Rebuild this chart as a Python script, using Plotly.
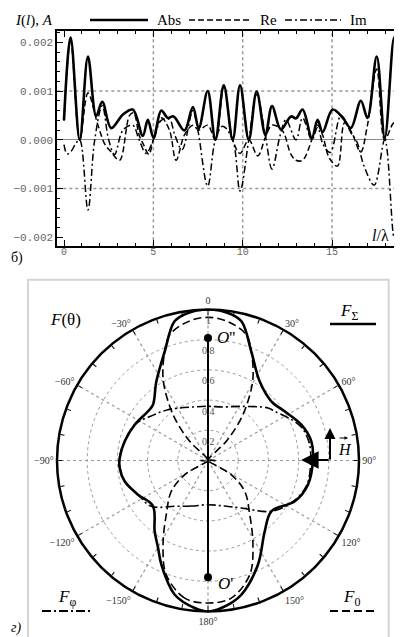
import plotly.graph_objects as go

# === данные: ток вдоль провода (мА) ===
ABS_X = [0, 0.37, 0.88, 1.34, 1.8, 2.14, 2.64, 3.3, 3.85, 4.41, 4.69, 5.01, 5.44, 5.81, 6.13,
         6.74, 7.21, 7.54, 8.04, 8.47, 8.94, 9.44, 9.85, 10.34, 10.78, 11.27, 11.64, 12.14,
         12.7, 12.98, 13.35, 13.87, 14.19, 14.47, 15.03, 15.6, 16.05, 16.61, 16.98, 17.5,
         17.95, 18.47, 18.84]
ABS_MA = [0.40, 2.10, 0.0, 1.71, 0.49, 0.78, 0.24, 0.52, 0.62, 0.08, 0.41, 0.04, 0.60, 0.45,
          0.48, 0.19, 0.67, 0.24, 1.00, 0.0, 1.12, 0.0, 1.12, 0.0, 0.99, 0.10, 0.69, 0.21,
          0.48, 0.44, 0.62, 0.04, 0.41, 0.16, 0.62, 0.45, 0.24, 0.80, 0.45, 1.71, 0.04, 2.10,
          0.38]

RE_X = [0, 0.37, 0.88, 1.34, 1.9, 2.3, 2.64, 3.11, 3.67, 3.9, 4.2, 4.45, 4.75, 5.0, 5.44, 5.9,
        6.27, 6.74, 7.21, 7.54, 8.04, 8.47, 8.94, 9.44, 9.85, 10.34, 10.84, 11.27, 11.64, 12.2,
        12.7, 12.98, 13.35, 13.87, 14.19, 14.47, 14.84, 15.3, 15.7, 16.1, 16.6, 16.98, 17.5,
        17.95, 18.47, 18.84]
RE_MA = [0.39, 2.05, 0.0, 0.96, 0.30, -0.10, -0.25, -0.42, 0.50, 0.55, 0.10, -0.10, -0.30, 0.0,
         0.45, 0.20, -0.42, 0.10, 0.30, 0.20, 0.30, 0.0, 1.08, 0.0, -0.28, 0.0, -0.33, 0.05,
         0.30, 0.20, -0.30, -0.42, -0.42, 0.0, 0.30, 0.10, -0.37, -0.54, 0.35, 0.15, -0.25,
         0.30, 1.45, 0.0, 0.35, 0.30]

IM_X = [0, 0.17, 0.37, 0.69, 0.88, 1.34, 1.71, 2.14, 2.5, 2.83, 3.3, 3.85, 4.2, 4.6, 5.0, 5.44,
        5.9, 6.2, 6.61, 7.21, 7.49, 8.04, 8.47, 8.88, 9.44, 9.85, 10.34, 10.78, 11.27, 11.64,
        12.1, 12.42, 12.98, 13.35, 13.87, 14.19, 14.5, 14.9, 15.5, 16.05, 16.4, 16.8, 17.36,
        17.95, 18.47, 18.84]
IM_MA = [-0.10, -0.29, -0.25, -0.06, 0.0, -1.44, -0.02, 0.70, 0.0, -0.30, 0.20, 0.30, 0.0,
         -0.28, 0.0, 0.40, 0.42, 0.10, -0.20, 0.60, 0.20, -0.95, 0.0, 0.28, 0.0, -1.05, 0.0,
         0.93, 0.08, -0.60, 0.10, 0.41, 0.0, 0.45, 0.0, 0.25, -0.10, -0.26, 0.50, 0.15, -0.05,
         -0.55, -0.93, 0.0, -2.00, -0.35]

X_TICKS = [0, 5, 10, 15]
Y_TICKS = [-0.002, -0.001, 0.0, 0.001, 0.002]
GRID_X = [5, 10, 15]
GRID_Y = [-0.001, 0.001]

# === данные: диаграммы направленности ===
FS_THETA = [-180, -174.8, -166.1, -155.9, -150.3, -143, -129.6, -116, -104, -94.9, -88.4, -77,
            -64, -50.6, -44.6, -33.1, -21.6, -13.5, -7.7, 0, 7.7, 13.5, 21.6, 33.1, 46.9, 57.3,
            69, 79.5, 89.6, 103.6, 115.2, 128.7, 141.3, 154.4, 166.1, 174.8, 180]
FS_R = [1.0, 0.981, 0.916, 0.756, 0.667, 0.587, 0.473, 0.516, 0.569, 0.587, 0.585, 0.566,
        0.540, 0.514, 0.519, 0.626, 0.778, 0.948, 0.986, 1.0, 0.986, 0.948, 0.778, 0.626,
        0.574, 0.603, 0.662, 0.696, 0.695, 0.681, 0.635, 0.538, 0.601, 0.765, 0.916, 0.981, 1.0]

F0_THETA = [-180, -170.4, -159.9, -151.9, -142.4, -130, -121.4, -110, -90, -50, -43.6, -38.9,
            -34, -28.6, -21.6, -16.9, -8, 0, 8, 16.9, 21.6, 28.6, 34, 38.9, 43.6, 50, 90, 110,
            121.4, 130, 142.4, 151.9, 159.9, 170.4, 180]
F0_R = [0.944, 0.924, 0.805, 0.632, 0.453, 0.317, 0.18, 0.0, 0.05, 0.0, 0.176, 0.334, 0.473,
        0.622, 0.778, 0.871, 0.93, 0.948, 0.93, 0.871, 0.778, 0.622, 0.473, 0.334, 0.176, 0.0,
        0.05, 0.0, 0.18, 0.317, 0.453, 0.632, 0.805, 0.924, 0.944]

FPHI_THETA = [-180, -160, -144, -128.9, -116, -104, -90, -77, -64, -50, -38.2, -30, -15, 0, 15,
              31.6, 48.8, 53.6, 69, 79.5, 90, 103.6, 115, 128.7, 145, 160, 180]
FPHI_R = [0.293, 0.321, 0.375, 0.483, 0.516, 0.569, 0.587, 0.566, 0.54, 0.47, 0.428, 0.40,
          0.367, 0.359, 0.367, 0.421, 0.528, 0.549, 0.65, 0.68, 0.68, 0.675, 0.63, 0.538,
          0.384, 0.321, 0.293]

O_THETA = [0, 180]
O_R = [0.811, 0.774]
RADIAL_TICKS = [0.2, 0.4, 0.6, 0.8, 1.0]
RADIAL_LABELS = ['0.2', '0.4', '0.6', '0.8', '1']

# === разметка ===
W, H = 402, 637
CX, CY, R = 200, 452.5, 151
SERIF = 'Liberation Serif'
MONO = 'Liberation Mono'


def px(x):
    return x / W


def py(y):
    return 1 - y / H


fig = go.Figure()

fig.add_trace(go.Scatter(x=RE_X, y=[v * 1e-3 for v in RE_MA], mode='lines',
                         line=dict(color='black', width=1.5, dash='6px,3px', shape='spline')))
fig.add_trace(go.Scatter(x=IM_X, y=[v * 1e-3 for v in IM_MA], mode='lines',
                         line=dict(color='black', width=1.5, dash='7px,3px,2px,3px', shape='spline')))
fig.add_trace(go.Scatter(x=ABS_X, y=[v * 1e-3 for v in ABS_MA], mode='lines',
                         line=dict(color='black', width=2.6, shape='spline')))

# сетка полярной диаграммы (лучи через 30°)
spoke_r, spoke_t = [], []
for a in range(0, 360, 30):
    spoke_r += [0, 1, None]
    spoke_t += [a, a, None]
fig.add_trace(go.Scatterpolar(r=spoke_r, theta=spoke_t, mode='lines', subplot='polar',
                              line=dict(color='#999999', width=1.2, dash='3px,3px'),
                              hoverinfo='skip'))

fig.add_trace(go.Scatterpolar(r=F0_R, theta=F0_THETA, mode='lines', subplot='polar',
                              line=dict(color='black', width=1.6, dash='8px,4px', shape='spline')))
fig.add_trace(go.Scatterpolar(r=FPHI_R, theta=FPHI_THETA, mode='lines', subplot='polar',
                              line=dict(color='black', width=1.6, dash='9px,3px,2px,3px',
                                        shape='spline')))
fig.add_trace(go.Scatterpolar(r=FS_R, theta=FS_THETA, mode='lines', subplot='polar',
                              line=dict(color='black', width=2.6, shape='spline')))
fig.add_trace(go.Scatterpolar(r=O_R, theta=O_THETA, mode='lines+markers', subplot='polar',
                              line=dict(color='black', width=2),
                              marker=dict(color='black', size=8)))

ang_vals = list(range(0, 360, 10))
ang_text = []
for a in ang_vals:
    if a % 30:
        ang_text.append('')
    elif a == 0:
        ang_text.append('0')
    elif a <= 180:
        ang_text.append(f'{a}°')
    else:
        ang_text.append(f'\u2212{360 - a}°')

fig.update_layout(
    width=W, height=H,
    margin=dict(l=0, r=0, t=0, b=0),
    paper_bgcolor='white', plot_bgcolor='white',
    showlegend=False,
    xaxis=dict(
        domain=[px(49.3), px(399.3)], range=[-0.375, 19.21], anchor='y',
        tickvals=X_TICKS, ticks='inside', ticklen=6, tickcolor='black',
        showline=True, linecolor='black', linewidth=2, mirror='allticks',
        showgrid=False, zeroline=False, ticklabelstandoff=-5,
        tickfont=dict(family=MONO, size=10, color='#666666'),
        minor=dict(dtick=1, ticks='inside', ticklen=3, tickcolor='black', showgrid=False),
    ),
    yaxis=dict(
        domain=[py(238.3), py(23.3)], range=[-0.002185, 0.002226], anchor='x',
        tickvals=Y_TICKS, tickformat='.3f', ticks='inside', ticklen=6, tickcolor='black',
        showline=True, linecolor='black', linewidth=2, mirror='allticks',
        showgrid=False, zeroline=True, zerolinecolor='#888888', zerolinewidth=1,
        tickfont=dict(family=MONO, size=11, color='#666666'),
        minor=dict(dtick=0.0002, ticks='inside', ticklen=3, tickcolor='black', showgrid=False),
    ),
    polar=dict(
        domain=dict(x=[px(CX - R), px(CX + R)], y=[py(CY + R), py(CY - R)]),
        bgcolor='white',
        angularaxis=dict(
            rotation=90, direction='clockwise', tickvals=ang_vals, ticktext=ang_text,
            ticks='inside', ticklen=4, tickcolor='black', showline=True, linecolor='black',
            linewidth=2.5, showgrid=False,
            tickfont=dict(family=SERIF, size=10, color='#333333'),
        ),
        radialaxis=dict(
            range=[0, 1], angle=90, showline=False, showticklabels=False, ticks='',
            tickvals=RADIAL_TICKS[:-1], showgrid=True, gridcolor='#999999', gridwidth=1.2,
            griddash='dot',
        ),
    ),
)

shapes = []
for gx in GRID_X:
    shapes.append(dict(type='line', xref='x', yref='y domain', x0=gx, x1=gx, y0=0, y1=1,
                       line=dict(color='#999999', width=1.5, dash='dot'), layer='below'))
for gy in GRID_Y:
    shapes.append(dict(type='line', xref='x domain', yref='y', x0=0, x1=1, y0=gy, y1=gy,
                       line=dict(color='#999999', width=1.5, dash='dot'), layer='below'))

# рамка нижней панели
shapes.append(dict(type='rect', xref='paper', yref='paper', x0=px(20), x1=px(380.7),
                   y0=py(632.7), y1=py(271.7), line=dict(color='#d4d4d4', width=2)))


def leg_line(x0, x1, y, width, dash):
    return dict(type='line', xref='paper', yref='paper', x0=px(x0), x1=px(x1), y0=py(y),
                y1=py(y), line=dict(color='black', width=width, dash=dash))


# легенда верхнего графика
shapes.append(leg_line(82, 140, 12, 2.6, 'solid'))
shapes.append(leg_line(181, 242, 12, 1.5, '6px,3px'))
shapes.append(leg_line(277, 333, 12, 1.5, '7px,3px,2px,3px'))
# легенда нижнего графика
shapes.append(leg_line(322, 368, 316, 2.6, 'solid'))
shapes.append(leg_line(34, 82, 603, 2, '9px,3px,2px,3px'))
shapes.append(leg_line(322, 368, 603, 2, '8px,4px'))
fig.update_layout(shapes=shapes)


def label(x, y, text, size=15, family=SERIF, color='black', xanchor='center', yanchor='middle'):
    fig.add_annotation(x=px(x), y=py(y), xref='paper', yref='paper', text=text,
                       showarrow=False, xanchor=xanchor, yanchor=yanchor,
                       font=dict(family=family, size=size, color=color))


label(5, 12, '<i>I</i>(<i>l</i>), <i>A</i>', 15, xanchor='left')
label(147, 12, 'Abs', 15, xanchor='left')
label(250, 12, 'Re', 15, xanchor='left')
label(340, 12, 'Im', 15, xanchor='left')
label(362, 227, '<i>l</i>/λ', 16, xanchor='left')
label(1, 250, 'б)', 14, xanchor='left')
label(1, 620, '<i>г)</i>', 14, xanchor='left')

label(40, 311, '<i>F</i>(θ)', 17, xanchor='left')
label(330, 304, '<i>F</i><sub>Σ</sub>', 17, xanchor='left')
label(48, 590, '<i>F</i><sub>φ</sub>', 17, xanchor='left')
label(333, 590, '<i>F</i><sub>0</sub>', 17, xanchor='left')
label(207, 330, '<i>O</i>\'\'', 17, xanchor='left')
label(208, 575, '<i>O</i>\'', 17, xanchor='left')

for rv, rt in zip(RADIAL_TICKS, RADIAL_LABELS):
    label(CX, CY - rv * R + 11, rt, 10, color='#555555')

# вектор H
fig.add_annotation(x=px(293), y=py(452), xref='paper', yref='paper', ax=29, ay=0,
                   showarrow=True, arrowhead=2, arrowsize=1.6, arrowwidth=2.2,
                   arrowcolor='black', text='')
fig.add_annotation(x=px(322), y=py(420), xref='paper', yref='paper', ax=0, ay=33,
                   showarrow=True, arrowhead=2, arrowsize=1.1, arrowwidth=2,
                   arrowcolor='black', text='')
label(328, 441, '<i>H</i>', 16, xanchor='left')
fig.add_annotation(x=px(340), y=py(430), xref='paper', yref='paper', ax=-10, ay=0,
                   showarrow=True, arrowhead=2, arrowsize=0.7, arrowwidth=1,
                   arrowcolor='black', text='')

fig.write_html('out.html')
